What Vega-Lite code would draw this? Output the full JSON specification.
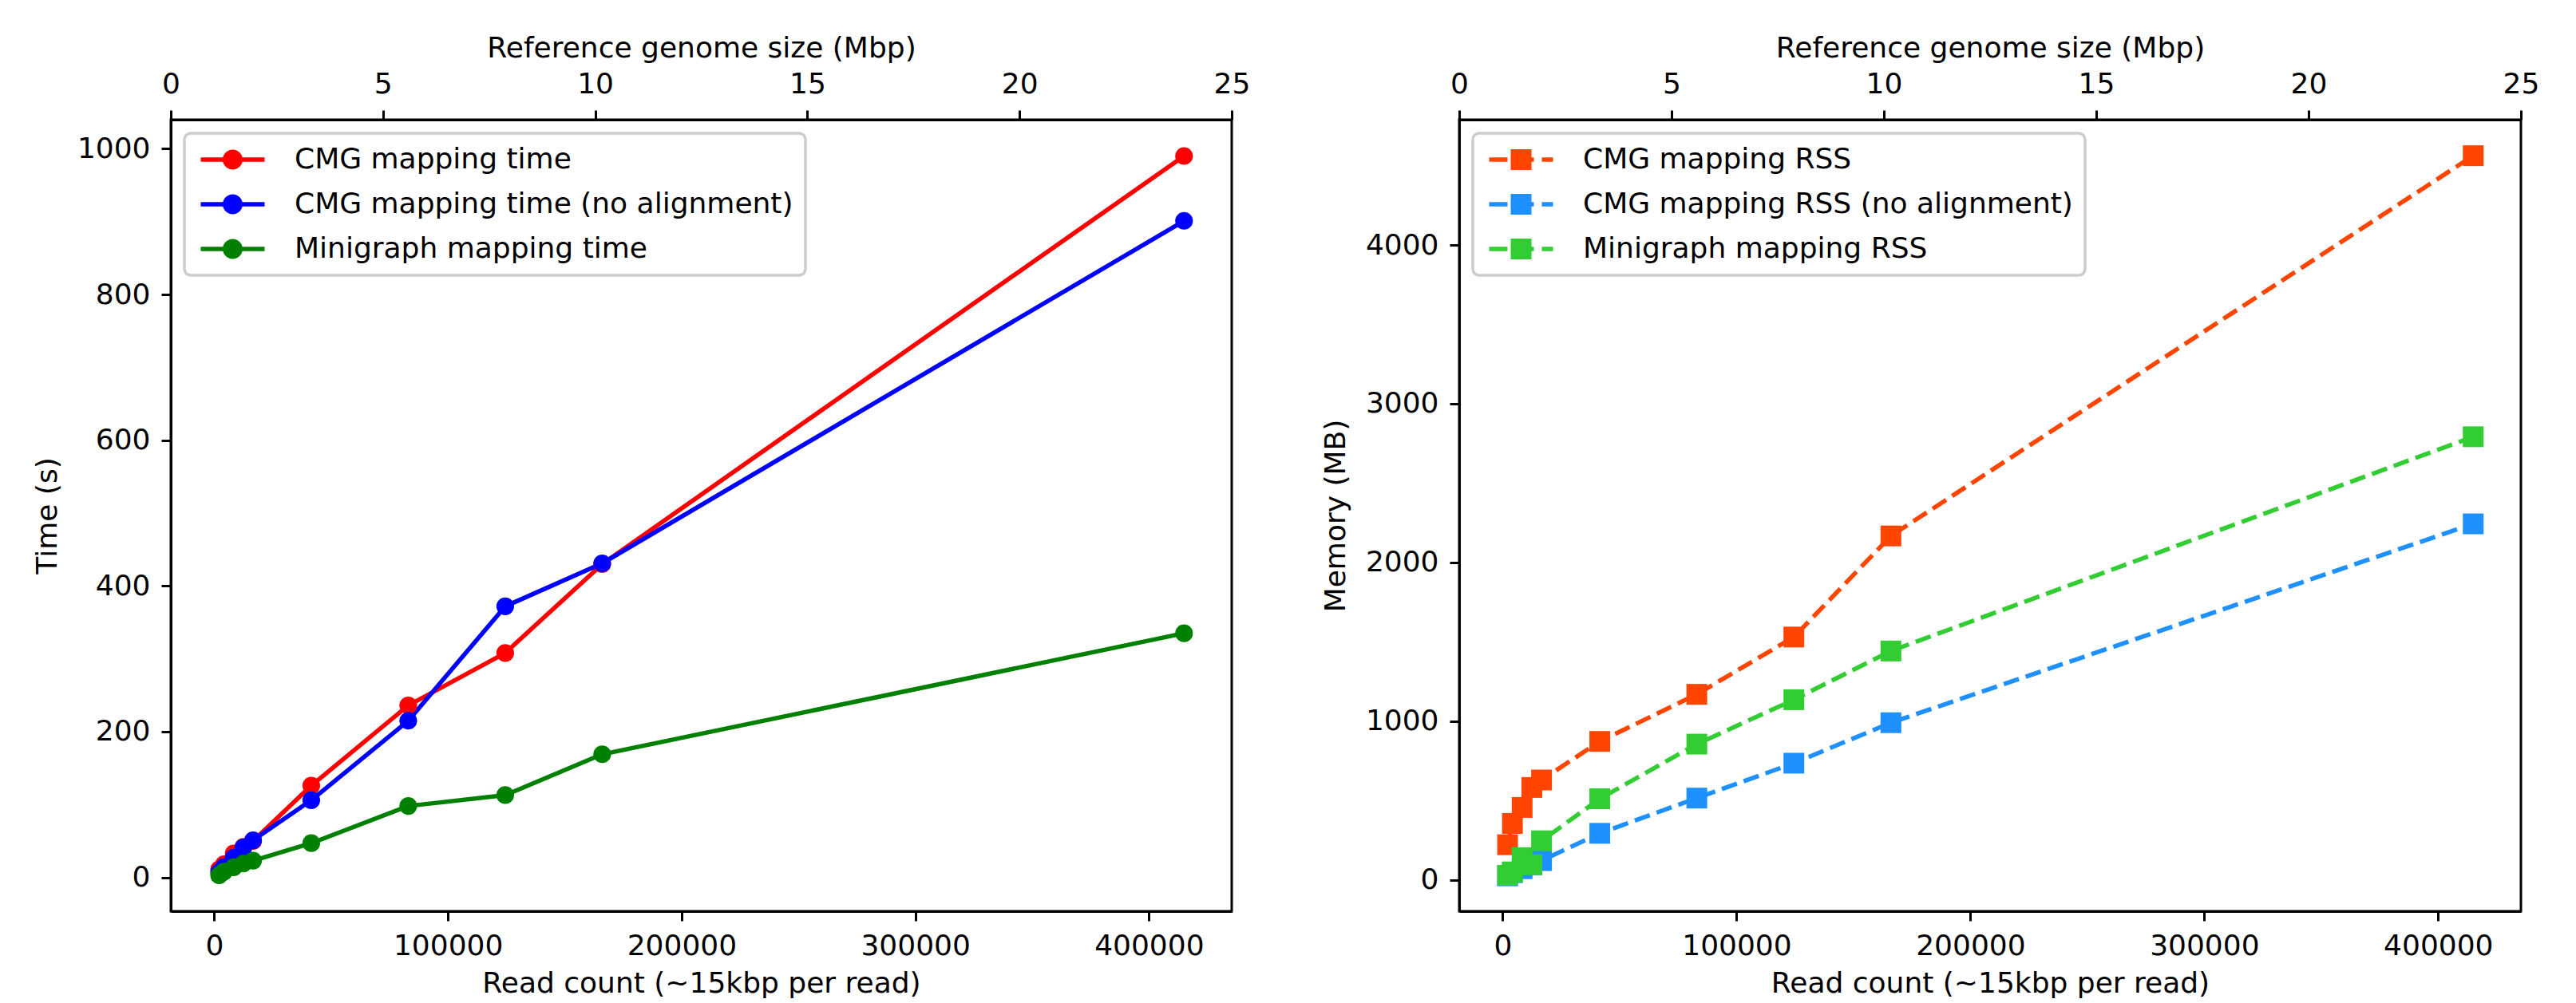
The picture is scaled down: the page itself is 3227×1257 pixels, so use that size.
{
  "$schema": "https://vega.github.io/schema/vega-lite/v6.json",
  "padding": {"left": 39, "top": 40, "right": 20, "bottom": 0},
  "bounds": "flush",
  "spacing": 285,
  "background": "white",
  "config": {
    "font": "DejaVu Sans",
    "view": {"stroke": "black", "strokeWidth": 3},
    "axis": {
      "labelFont": "DejaVu Sans", "titleFont": "DejaVu Sans",
      "labelFontSize": 36, "titleFontSize": 36, "titleFontWeight": "normal",
      "labelColor": "black", "titleColor": "black", "tickColor": "black", "domainColor": "black",
      "tickSize": 12, "tickWidth": 3, "domainWidth": 3, "grid": false,
      "labelPadding": 14, "titlePadding": 12, "labelFlush": false, "labelOverlap": false, "labelBound": false
    },
    "legend": {
      "orient": "top-left", "offset": 17, "title": null,
      "labelFont": "DejaVu Sans", "labelFontSize": 36, "labelColor": "black", "labelLimit": 2000,
      "symbolSize": 625, "symbolStrokeWidth": 0, "symbolOpacity": 1,
      "labelOffset": 87, "padding": 15, "rowPadding": 20,
      "fillColor": "white", "strokeColor": "#cccccc", "strokeWidth": 3.5, "cornerRadius": 8
    }
  },
  "datasets": {
    "time": [
      {"series": "CMG mapping time", "count": 2075, "value": 11},
      {"series": "CMG mapping time", "count": 4150, "value": 18},
      {"series": "CMG mapping time", "count": 8300, "value": 33},
      {"series": "CMG mapping time", "count": 12450, "value": 42},
      {"series": "CMG mapping time", "count": 16600, "value": 50},
      {"series": "CMG mapping time", "count": 41500, "value": 126},
      {"series": "CMG mapping time", "count": 83000, "value": 236},
      {"series": "CMG mapping time", "count": 124500, "value": 308},
      {"series": "CMG mapping time", "count": 166000, "value": 430},
      {"series": "CMG mapping time", "count": 415000, "value": 990},
      {"series": "CMG mapping time (no alignment)", "count": 2075, "value": 7},
      {"series": "CMG mapping time (no alignment)", "count": 4150, "value": 14},
      {"series": "CMG mapping time (no alignment)", "count": 8300, "value": 27},
      {"series": "CMG mapping time (no alignment)", "count": 12450, "value": 41},
      {"series": "CMG mapping time (no alignment)", "count": 16600, "value": 51},
      {"series": "CMG mapping time (no alignment)", "count": 41500, "value": 106},
      {"series": "CMG mapping time (no alignment)", "count": 83000, "value": 215},
      {"series": "CMG mapping time (no alignment)", "count": 124500, "value": 372},
      {"series": "CMG mapping time (no alignment)", "count": 166000, "value": 431},
      {"series": "CMG mapping time (no alignment)", "count": 415000, "value": 901},
      {"series": "Minigraph mapping time", "count": 2075, "value": 3},
      {"series": "Minigraph mapping time", "count": 4150, "value": 8},
      {"series": "Minigraph mapping time", "count": 8300, "value": 14},
      {"series": "Minigraph mapping time", "count": 12450, "value": 19},
      {"series": "Minigraph mapping time", "count": 16600, "value": 23},
      {"series": "Minigraph mapping time", "count": 41500, "value": 47},
      {"series": "Minigraph mapping time", "count": 83000, "value": 98},
      {"series": "Minigraph mapping time", "count": 124500, "value": 113},
      {"series": "Minigraph mapping time", "count": 166000, "value": 169},
      {"series": "Minigraph mapping time", "count": 415000, "value": 335}
    ],
    "mem": [
      {"series": "CMG mapping RSS", "count": 2075, "value": 221},
      {"series": "CMG mapping RSS", "count": 4150, "value": 355},
      {"series": "CMG mapping RSS", "count": 8300, "value": 456},
      {"series": "CMG mapping RSS", "count": 12450, "value": 582},
      {"series": "CMG mapping RSS", "count": 16600, "value": 629},
      {"series": "CMG mapping RSS", "count": 41500, "value": 872},
      {"series": "CMG mapping RSS", "count": 83000, "value": 1169},
      {"series": "CMG mapping RSS", "count": 124500, "value": 1530},
      {"series": "CMG mapping RSS", "count": 166000, "value": 2167},
      {"series": "CMG mapping RSS", "count": 415000, "value": 4563},
      {"series": "CMG mapping RSS (no alignment)", "count": 2075, "value": 25},
      {"series": "CMG mapping RSS (no alignment)", "count": 4150, "value": 45},
      {"series": "CMG mapping RSS (no alignment)", "count": 8300, "value": 70},
      {"series": "CMG mapping RSS (no alignment)", "count": 12450, "value": 95},
      {"series": "CMG mapping RSS (no alignment)", "count": 16600, "value": 121},
      {"series": "CMG mapping RSS (no alignment)", "count": 41500, "value": 293},
      {"series": "CMG mapping RSS (no alignment)", "count": 83000, "value": 515},
      {"series": "CMG mapping RSS (no alignment)", "count": 124500, "value": 735},
      {"series": "CMG mapping RSS (no alignment)", "count": 166000, "value": 990},
      {"series": "CMG mapping RSS (no alignment)", "count": 415000, "value": 2243},
      {"series": "Minigraph mapping RSS", "count": 2075, "value": 28},
      {"series": "Minigraph mapping RSS", "count": 4150, "value": 50},
      {"series": "Minigraph mapping RSS", "count": 8300, "value": 140},
      {"series": "Minigraph mapping RSS", "count": 12450, "value": 95},
      {"series": "Minigraph mapping RSS", "count": 16600, "value": 246},
      {"series": "Minigraph mapping RSS", "count": 41500, "value": 511},
      {"series": "Minigraph mapping RSS", "count": 83000, "value": 855},
      {"series": "Minigraph mapping RSS", "count": 124500, "value": 1135},
      {"series": "Minigraph mapping RSS", "count": 166000, "value": 1442},
      {"series": "Minigraph mapping RSS", "count": 415000, "value": 2792}
    ],
    "genome_axis": [{"mbp": 0}, {"mbp": 25}]
  },
  "resolve": {"scale": {"color": "independent", "x": "independent", "y": "independent"}},
  "hconcat": [
    {
      "width": 1329, "height": 992,
      "resolve": {"scale": {"x": "independent"}, "axis": {"x": "independent"}},
      "layer": [
        {
          "data": {"name": "time"},
          "encoding": {
            "x": {"field": "count", "type": "quantitative", "scale": {"domain": [-18600, 435400], "nice": false, "zero": false},
                  "axis": {"values": [0, 100000, 200000, 300000, 400000], "format": "d", "title": "Read count (~15kbp per read)"}},
            "y": {"field": "value", "type": "quantitative", "scale": {"domain": [-46.4, 1039.8], "nice": false, "zero": false},
                  "axis": {"values": [0, 200, 400, 600, 800, 1000], "format": "d", "title": "Time (s)", "titlePadding": 18}},
            "color": {"field": "series", "type": "nominal",
                      "scale": {"domain": ["CMG mapping time", "CMG mapping time (no alignment)", "Minigraph mapping time"], "range": ["#ff0000", "#0000ff", "#008000"]},
                      "legend": {
                        "symbolType": "M-1,-0.22H5.4V0.22H-1Z M3.2,0A1,1 0 1 1 1.2,0A1,1 0 1 1 3.2,0Z",
                        "encode": {"symbols": {"update": {
                          "fill": [
                            {"test": "datum.value === 'CMG mapping time'", "value": "#ff0000"},
                            {"test": "datum.value === 'CMG mapping time (no alignment)'", "value": "#0000ff"},
                            {"value": "#008000"}
                          ],
                          "stroke": {"value": "transparent"}, "strokeWidth": {"value": 0}, "opacity": {"value": 1}
                        }}}
                      }}
          },
          "layer": [
            {"mark": {"type": "line", "strokeWidth": 5.5, "strokeJoin": "round"}},
            {"mark": {"type": "point", "filled": true, "shape": "circle", "size": 491, "opacity": 1, "strokeWidth": 0}}
          ]
        },
        {
          "data": {"name": "genome_axis"},
          "mark": {"type": "point", "opacity": 0},
          "encoding": {
            "x": {"field": "mbp", "type": "quantitative", "scale": {"domain": [0, 25], "nice": false, "zero": false},
                  "axis": {"orient": "top", "values": [0, 5, 10, 15, 20, 25], "title": "Reference genome size (Mbp)", "titlePadding": 8}}
          }
        }
      ]
    },
    {
      "width": 1330, "height": 992,
      "resolve": {"scale": {"x": "independent"}, "axis": {"x": "independent"}},
      "layer": [
        {
          "data": {"name": "mem"},
          "encoding": {
            "x": {"field": "count", "type": "quantitative", "scale": {"domain": [-18600, 435400], "nice": false, "zero": false},
                  "axis": {"values": [0, 100000, 200000, 300000, 400000], "format": "d", "title": "Read count (~15kbp per read)"}},
            "y": {"field": "value", "type": "quantitative", "scale": {"domain": [-198, 4790], "nice": false, "zero": false},
                  "axis": {"values": [0, 1000, 2000, 3000, 4000], "format": "d", "title": "Memory (MB)", "titlePadding": 18}},
            "color": {"field": "series", "type": "nominal",
                      "scale": {"domain": ["CMG mapping RSS", "CMG mapping RSS (no alignment)", "Minigraph mapping RSS"], "range": ["#ff4500", "#1e90ff", "#32cd32"]},
                      "legend": {
                        "symbolType": "M-1,-0.22H0.84V0.22H-1Z M1.64,-0.22H3.48V0.22H1.64Z M4.28,-0.22H5.4V0.22H4.28Z M1.16,-1.04H3.24V1.04H1.16Z",
                        "encode": {"symbols": {"update": {
                          "fill": [
                            {"test": "datum.value === 'CMG mapping RSS'", "value": "#ff4500"},
                            {"test": "datum.value === 'CMG mapping RSS (no alignment)'", "value": "#1e90ff"},
                            {"value": "#32cd32"}
                          ],
                          "stroke": {"value": "transparent"}, "strokeWidth": {"value": 0}, "opacity": {"value": 1}
                        }}}
                      }}
          },
          "layer": [
            {"mark": {"type": "line", "strokeWidth": 5.5, "strokeDash": [20, 9], "strokeJoin": "round"}},
            {"mark": {"type": "point", "filled": true, "shape": "square", "size": 676, "opacity": 1, "strokeWidth": 0}}
          ]
        },
        {
          "data": {"name": "genome_axis"},
          "mark": {"type": "point", "opacity": 0},
          "encoding": {
            "x": {"field": "mbp", "type": "quantitative", "scale": {"domain": [0, 25], "nice": false, "zero": false},
                  "axis": {"orient": "top", "values": [0, 5, 10, 15, 20, 25], "title": "Reference genome size (Mbp)", "titlePadding": 8}}
          }
        }
      ]
    }
  ]
}
